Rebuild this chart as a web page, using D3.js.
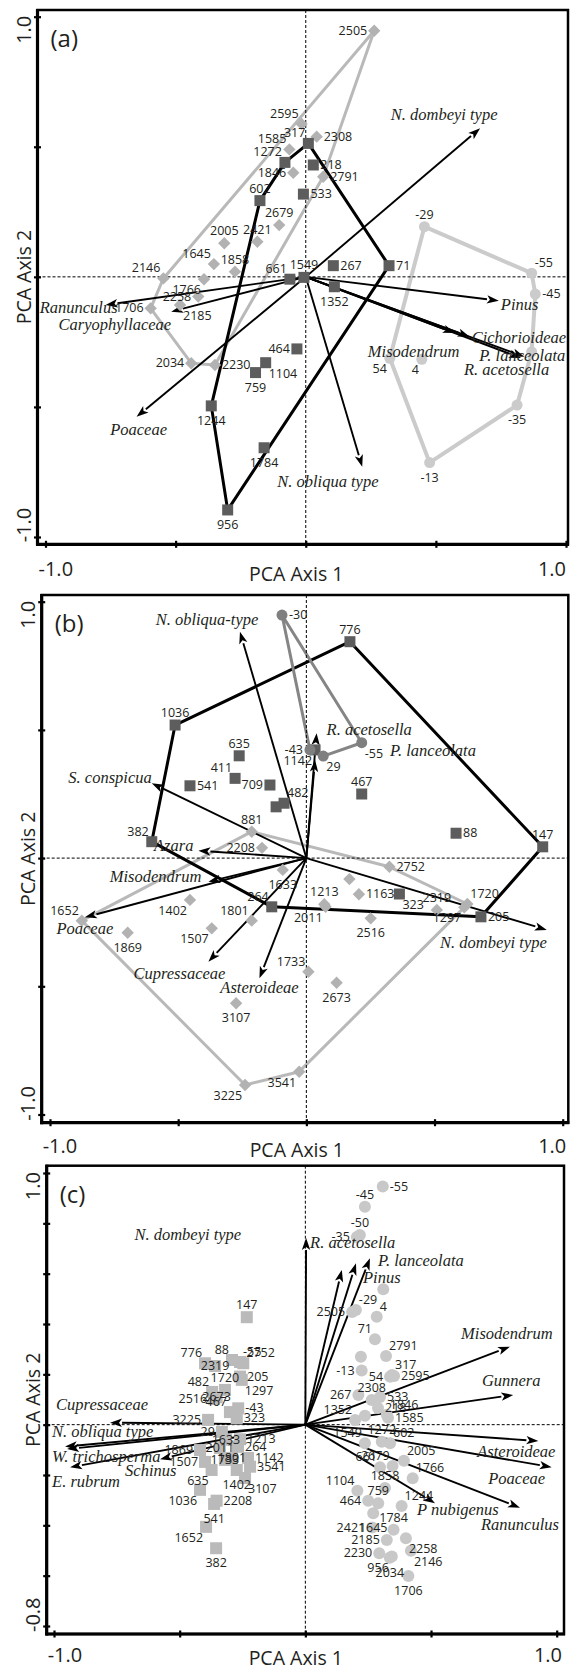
<!DOCTYPE html>
<html lang="en">
<head>
<meta charset="UTF-8">
<title>PCA biplots (a) (b) (c)</title>
<style>
    body { margin: 0; background: #fff; }
    svg { display: block; font-family: "Open Sans", "Liberation Sans", sans-serif; }
    .num { font-size: 12.5px; fill: #231f20; }
    .sp { font-family: "Liberation Serif", "Times New Roman", serif; font-style: italic; font-size: 16.5px; fill: #231f20; }
    .tk { font-size: 20px; fill: #231f20; }
    .ttl { font-size: 19.5px; fill: #231f20; }
    .plab { font-size: 24px; fill: #231f20; }
</style>
</head>
<body>
<svg width="571" height="1670"></svg>

<script src="https://d3js.org/d3.v7.min.js"></script>
<script>
    // ---- data: [sample label, PCA axis 1, PCA axis 2] ----

    // panel (a)
    const aSquares = [
        ["317", 0.010, 0.513], ["218", 0.029, 0.430], ["533", -0.009, 0.318], ["1272", -0.080, 0.440],
        ["602", -0.176, 0.293], ["71", 0.320, 0.043], ["267", 0.106, 0.043], ["1549", -0.007, -0.002],
        ["661", -0.061, -0.009], ["1352", 0.110, -0.038], ["464", -0.034, -0.277], ["1104", -0.154, -0.330],
        ["759", -0.193, -0.368], ["1244", -0.363, -0.496], ["1784", -0.160, -0.657], ["956", -0.300, -0.896]
    ];
    const aDiamonds = [
        ["2505", 0.263, 0.946], ["2595", -0.016, 0.588], ["2308", 0.042, 0.539], ["1585", -0.063, 0.490],
        ["1846", -0.048, 0.400], ["2791", 0.067, 0.385], ["2679", -0.102, 0.199], ["2421", -0.186, 0.135],
        ["2005", -0.313, 0.129], ["1645", -0.353, 0.049], ["1858", -0.272, 0.020], ["2146", -0.547, -0.006],
        ["1766", -0.391, -0.009], ["2258", -0.413, -0.076], ["1706", -0.596, -0.121], ["2185", -0.483, -0.108],
        ["2034", -0.440, -0.332], ["2230", -0.349, -0.339]
    ];
    const aCircles = [
        ["-29", 0.456, 0.193], ["-55", 0.868, 0.014], ["-45", 0.882, -0.066], ["", 0.868, -0.288],
        ["-35", 0.812, -0.493], ["-13", 0.476, -0.714], ["54", 0.323, -0.313], ["4", 0.446, -0.317]
    ];
    const aSpecies = [
        ["N. dombeyi type", 0.670, 0.571], ["Pinus", 0.742, -0.092], ["Cichorioideae", 0.630, -0.230],
        ["P. lanceolata", 0.840, -0.307], ["R. acetosella", 0.827, -0.312], ["Misodendrum", 0.573, -0.216],
        ["N. obliqua type", 0.217, -0.730], ["Poaceae", -0.650, -0.538], ["Caryophyllaceae", -0.517, -0.134],
        ["Ranunculus", -0.769, -0.108]
    ];

    // panel (b)
    const bSquares = [
        ["776", 0.170, 0.844], ["1036", -0.512, 0.519], ["635", -0.262, 0.399], ["411", -0.278, 0.311],
        ["709", -0.142, 0.285], ["541", -0.454, 0.282], ["482", -0.087, 0.214], ["", -0.118, 0.200],
        ["1142", 0.034, 0.422], ["467", 0.216, 0.250], ["88", 0.584, 0.097], ["147", 0.922, 0.044],
        ["205", 0.681, -0.229], ["382", -0.603, 0.064], ["264", -0.135, -0.190], ["323", 0.363, -0.140]
    ];
    const bDiamonds = [
        ["881", -0.213, 0.103], ["2208", -0.173, 0.040], ["1652", -0.876, -0.244], ["1869", -0.697, -0.291],
        ["1402", -0.454, -0.163], ["1507", -0.369, -0.274], ["1801", -0.213, -0.244], ["1633", -0.092, -0.046],
        ["3107", -0.274, -0.566], ["3225", -0.239, -0.885], ["3541", -0.028, -0.833], ["1733", 0.008, -0.443],
        ["2673", 0.118, -0.486], ["2752", 0.324, -0.034], ["", 0.168, -0.082], ["1213", 0.070, -0.180],
        ["1163", 0.205, -0.141], ["2011", 0.075, -0.190], ["2516", 0.251, -0.235], ["2319", 0.509, -0.202],
        ["1720", 0.628, -0.179], ["1297", 0.616, -0.192]
    ];
    const bCircles = [
        ["-30", -0.095, 0.948], ["-55", 0.216, 0.450], ["29", 0.066, 0.398], ["-43", 0.014, 0.422]
    ];
    const bSpecies = [
        ["N. obliqua-type", -0.259, 0.883], ["R. acetosella", 0.040, 0.487], ["P. lanceolata", 0.034, 0.383],
        ["S. conspicua", -0.603, 0.292], ["Azara", -0.421, 0.029], ["Misodendrum", -0.382, -0.092],
        ["Poaceae", -0.864, -0.231], ["Cupressaceae", -0.382, -0.404], ["Asteroideae", -0.183, -0.469],
        ["N. dombeyi type", 0.938, -0.280]
    ];

    // panel (c)
    const cCircles = [
        ["-55", 0.308, 0.946], ["-45", 0.237, 0.866], ["-50", 0.217, 0.754], ["-35", 0.205, 0.746],
        ["", 0.310, 0.538], ["2505", 0.186, 0.448], ["-29", 0.201, 0.456], ["4", 0.284, 0.429],
        ["71", 0.277, 0.339], ["2791", 0.321, 0.273], ["", 0.221, 0.270], ["-13", 0.224, 0.215],
        ["54", 0.337, 0.190], ["317", 0.345, 0.197], ["2595", 0.353, 0.193], ["267", 0.211, 0.118],
        ["2308", 0.264, 0.098], ["533", 0.297, 0.110], ["218", 0.289, 0.066], ["1352", 0.198, 0.019],
        ["", 0.237, 0.035], ["1846", 0.324, 0.039], ["1585", 0.329, 0.027], ["1549", 0.237, -0.074],
        ["1272", 0.304, -0.068], ["602", 0.337, -0.074], ["2005", 0.392, -0.143], ["661", 0.297, -0.169],
        ["2679", 0.347, -0.164], ["1766", 0.427, -0.213], ["1104", 0.207, -0.263], ["1858", 0.317, -0.252],
        ["759", 0.290, -0.312], ["464", 0.250, -0.302], ["1244", 0.383, -0.323], ["1645", 0.270, -0.352],
        ["1784", 0.351, -0.418], ["2421", 0.266, -0.409], ["2185", 0.324, -0.458], ["2258", 0.400, -0.451],
        ["2146", 0.420, -0.501], ["2230", 0.294, -0.511], ["956", 0.344, -0.524], ["2034", 0.336, -0.529],
        ["1706", 0.410, -0.601]
    ];
    const cSquares = [
        ["147", -0.233, 0.427], ["88", -0.292, 0.257], ["-55", -0.260, 0.249], ["776", -0.399, 0.244],
        ["2319", -0.359, 0.233], ["2752", -0.247, 0.244], ["205", -0.260, 0.191], ["482", -0.371, 0.130],
        ["1720", -0.320, 0.138], ["1297", -0.253, 0.178], ["2673", -0.353, 0.109], ["2516", -0.363, 0.102],
        ["-43", -0.267, 0.065], ["3225", -0.387, 0.019], ["467", -0.300, 0.050], ["323", -0.273, 0.025],
        ["29", -0.332, -0.029], ["1633", -0.316, -0.060], ["1213", -0.260, -0.058], ["1869", -0.419, -0.101],
        ["2011", -0.340, -0.093], ["264", -0.268, -0.088], ["1507", -0.399, -0.148], ["1733", -0.320, -0.140],
        ["1801", -0.292, -0.132], ["1142", -0.228, -0.132], ["3541", -0.220, -0.167], ["635", -0.373, -0.180],
        ["1402", -0.273, -0.180], ["3107", -0.240, -0.212], ["1036", -0.419, -0.259], ["2208", -0.353, -0.302],
        ["541", -0.363, -0.315], ["1652", -0.395, -0.406], ["382", -0.355, -0.491]
    ];
    const cSpecies = [
        ["R. acetosella", 0.003, 0.742], ["N. dombeyi type", 0.145, 0.615], ["Pinus", 0.2015, 0.641],
        ["P. lanceolata", 0.257, 0.661], ["Misodendrum", 0.814, 0.310], ["Gunnera", 0.827, 0.118],
        ["Asteroideae", 0.927, -0.065], ["Poaceae", 0.980, -0.169], ["Ranunculus", 0.854, -0.330],
        ["P nubigenus", 0.516, -0.312], ["Cupressaceae", -0.777, 0.008], ["N. obliqua type", -0.956, -0.087],
        ["W. trichosperma", -0.948, -0.097], ["E. rubrum", -0.936, -0.169], ["Schinus", -0.578, -0.137]
    ];

    // axis tick values
    const xTicks = [-1, -0.5, 0, 0.5, 1];
    const yTicksAB = [-1, -0.5, 0, 0.5, 1];
    const yTicksC = [-0.8, -0.6, -0.4, -0.2, 0, 0.2, 0.4, 0.6, 0.8, 1.0];

    // ---- label placement (layout only) ----
    // code -> [anchor, dx, dy]
    const place = {
        t: ["middle", 0, -8], b: ["middle", 0, 19], l: ["end", -7, 4], r: ["start", 7, 4],
        tl: ["end", -3, -6], tr: ["start", 3, -6], bl: ["end", -3, 15], br: ["start", 3, 15], c: ["middle", 0, 4]
    };
    const aSqPos = { "317":"tl","218":"r","533":"r","1272":"tl","602":"t","71":"r","267":"r","1549":"t","661":"tl",
        "1352":"b","464":"l","1104":"br","759":"b","1244":"b","1784":"b","956":"b" };
    const aDiPos = { "2505":"l","2595":"tl","2308":"r","1585":"tl","1846":"l","2791":"r","2679":"t","2421":"t",
        "2005":"t","1645":"tl","1858":"t","2146":"tl","1766":"bl","2258":"l","1706":"l","2185":"br","2034":"l","2230":"r" };
    const aCiPos = { "-29":"t","-55":"tr","-45":"r","-35":"b","-13":"b","54":"bl","4":"bl" };
    const bSqPos = { "776":"t","1036":"t","635":"t","411":"tl","709":"l","541":"r","482":"tr","1142":"bl","467":"t",
        "88":"r","147":"t","205":"r","382":"tl","264":"tl","323":"br" };
    const bDiPos = { "881":"t","2208":"l","1652":"tl","1869":"b","1402":"bl","1507":"bl","1801":"tl","1633":"b",
        "3107":"b","3225":"bl","3541":"bl","1733":"tl","2673":"b","2752":"r","1213":"t","1163":"r","2011":"bl",
        "2516":"b","2319":"t","1720":"tr","1297":"bl" };
    const bCiPos = { "-30":"r","-55":"br","29":"br","-43":"l" };
    const cCiPos = { "-55":"r","-45":"t","-50":"t","-35":"l","2505":"l","-29":"tr","4":"tr","71":"tl","2791":"tr",
        "-13":"l","54":"l","317":"tr","2595":"r","267":"l","2308":"t","533":"r","218":"r","1352":"tl","1846":"tr",
        "1585":"r","1549":"tl","1272":"t","602":"tr","2005":"tr","661":"tl","2679":"tl","1766":"tr","1104":"tl",
        "1858":"t","759":"t","464":"l","1244":"tr","1645":"b","1784":"t","2421":"l","2185":"l","2258":"br",
        "2146":"br","2230":"l","956":"bl","2034":"b","1706":"b" };
    const cSqPos = { "147":"t","88":"tl","-55":"tr","776":"tl","2319":"c","2752":"tr","205":"r","482":"tl","1720":"t",
        "1297":"br","2673":"c","2516":"l","-43":"r","3225":"l","467":"tl","323":"r","29":"l","1633":"c","1213":"r",
        "1869":"l","2011":"c","264":"r","1507":"l","1733":"c","1801":"c","1142":"r","3541":"r","635":"bl","1402":"b",
        "3107":"br","1036":"bl","2208":"r","541":"b","1652":"bl","382":"b" };

    // species label: [anchor, dx, dy] from the arrow head
    const aSpPos = { "N. dombeyi type":["middle",-36,-8], "Pinus":["start",2,9], "Cichorioideae":["start",2,6],
        "P. lanceolata":["start",-45,4], "R. acetosella":["start",-57,17], "Misodendrum":["start",-87,24],
        "N. obliqua type":["start",-85,20], "Poaceae":["middle",2,18], "Caryophyllaceae":["end",0,18],
        "Ranunculus":["middle",-27,8] };
    const bSpPos = { "N. obliqua-type":["middle",-33,-7], "R. acetosella":["start",10,2], "P. lanceolata":["start",75,-4],
        "S. conspicua":["end",0,0], "Azara":["end",-5,0], "Misodendrum":["end",-7,0], "Poaceae":["middle",0,17],
        "Cupressaceae":["middle",-29,17], "Asteroideae":["middle",0,15], "N. dombeyi type":["end",0,18] };
    const cSpPos = { "R. acetosella":["start",4,10], "N. dombeyi type":["middle",-154,-30], "Pinus":["start",7,20],
        "P. lanceolata":["start",8,8], "Misodendrum":["middle",-3,-8], "Gunnera":["middle",-2,-9],
        "Asteroideae":["middle",-22,16], "Poaceae":["middle",-35,17], "Ranunculus":["middle",0,22],
        "P nubigenus":["start",-18,12], "Cupressaceae":["middle",-8,-13], "N. obliqua type":["start",-13,-10],
        "W. trichosperma":["start",-15,13], "E. rubrum":["start",-18,20], "Schinus":["start",-35,17] };

    // ---- panels: frame and scale ranges ----
    const panels = [
        { tag: "(a)", frame: [37.5, 10, 568, 544.3], xr: [45.5, 566], yd: [-1, 1], yr: [537, 16.7],
          yTicks: yTicksAB, yLabels: ["-1.0", "1.0"], tickDy: 32, titleDy: 37,
          groups: [
              { data: aDiamonds, pos: aDiPos, shape: "diamond", fill: "#b2b2b2", hull: "#b9b9b9", hw: 3 },
              { data: aCircles, pos: aCiPos, shape: "circle", fill: "#cbcbcb", hull: "#cbcbcb", hw: 4 },
              { data: aSquares, pos: aSqPos, shape: "square", fill: "#5d5d5d", hull: "#000", hw: 3 }
          ],
          species: aSpecies, spPos: aSpPos },
        { tag: "(b)", frame: [41.7, 595, 568.3, 1122.7], xr: [50, 562.7], yd: [-1, 1], yr: [1114.5, 601.7],
          yTicks: yTicksAB, yLabels: ["-1.0", "1.0"], tickDy: 30, titleDy: 34,
          groups: [
              { data: bDiamonds, pos: bDiPos, shape: "diamond", fill: "#b2b2b2", hull: "#b9b9b9", hw: 3 },
              { data: bSquares, pos: bSqPos, shape: "square", fill: "#5d5d5d", hull: "#000", hw: 3 },
              { data: bCircles, pos: bCiPos, shape: "circle", fill: "#7f7f7f", hull: "#858585", hw: 3 }
          ],
          species: bSpecies, spPos: bSpPos },
        { tag: "(c)", frame: [46.7, 1165.7, 564, 1634], xr: [54, 556.7], yd: [-0.8, 1], yr: [1626, 1173],
          yTicks: yTicksC, yLabels: ["-0.8", "1.0"], tickDy: 28, titleDy: 31,
          groups: [
              { data: cCircles, pos: cCiPos, shape: "circle", fill: "#c8c8c8", hull: null, r: 6 },
              { data: cSquares, pos: cSqPos, shape: "square", fill: "#bababa", hull: null, size: 12 }
          ],
          species: cSpecies, spPos: cSpPos }
    ];

    const svg = d3.select("svg");

    function drawPanel(p) {
        const x = d3.scaleLinear().domain([-1, 1]).range(p.xr);
        const y = d3.scaleLinear().domain(p.yd).range(p.yr);
        const [fl, ft, fr, fb] = p.frame;
        const g = svg.append("g");

        // polygons round each group
        p.groups.forEach(gr => {
            if (!gr.hull) return;
            const hull = d3.polygonHull(gr.data.map(d => [x(d[1]), y(d[2])]));
            g.append("path")
                .attr("d", "M" + hull.join("L") + "Z")
                .attr("fill", "none")
                .attr("stroke", gr.hull)
                .attr("stroke-width", gr.hw)
                .attr("stroke-linejoin", "round");
        });

        // dashed zero lines
        g.append("line").attr("x1", x(0)).attr("x2", x(0)).attr("y1", ft).attr("y2", fb)
            .attr("stroke", "#000").attr("stroke-width", 1).attr("stroke-dasharray", "3,2");
        g.append("line").attr("x1", fl).attr("x2", fr).attr("y1", y(0)).attr("y2", y(0))
            .attr("stroke", "#000").attr("stroke-width", 1).attr("stroke-dasharray", "3,2");

        // species arrows
        p.species.forEach(s => {
            const x0 = x(0), y0 = y(0), x1 = x(s[1]), y1 = y(s[2]);
            const a = Math.atan2(y1 - y0, x1 - x0);
            const len = 12, hw = 4.2;
            const bx = x1 - len * Math.cos(a), by = y1 - len * Math.sin(a);
            g.append("line").attr("x1", x0).attr("y1", y0).attr("x2", bx).attr("y2", by)
                .attr("stroke", "#000").attr("stroke-width", 1.9);
            g.append("path")
                .attr("d", `M${x1},${y1}L${bx - hw * Math.sin(a)},${by + hw * Math.cos(a)}` +
                    `L${bx + 3 * Math.cos(a)},${by + 3 * Math.sin(a)}L${bx + hw * Math.sin(a)},${by - hw * Math.cos(a)}Z`)
                .attr("fill", "#000");
        });

        // sample markers
        p.groups.forEach(gr => {
            gr.data.forEach(d => {
                const cx = x(d[1]), cy = y(d[2]);
                if (gr.shape === "circle") {
                    g.append("circle").attr("cx", cx).attr("cy", cy).attr("r", gr.r || 5.5).attr("fill", gr.fill);
                } else if (gr.shape === "square") {
                    const s = gr.size || 11;
                    g.append("rect").attr("x", cx - s / 2).attr("y", cy - s / 2).attr("width", s).attr("height", s)
                        .attr("fill", gr.fill);
                } else {
                    const h = 6.2;
                    g.append("path").attr("d", `M${cx},${cy - h}L${cx + h},${cy}L${cx},${cy + h}L${cx - h},${cy}Z`)
                        .attr("fill", gr.fill);
                }
            });
        });

        // sample labels
        p.groups.forEach(gr => {
            gr.data.forEach(d => {
                if (!d[0]) return;
                const pl = place[gr.pos[d[0]] || "r"];
                g.append("text").attr("class", "num")
                    .attr("x", x(d[1]) + pl[1]).attr("y", y(d[2]) + pl[2])
                    .attr("text-anchor", pl[0]).text(d[0]);
            });
        });

        // species labels
        p.species.forEach(s => {
            const pl = p.spPos[s[0]];
            g.append("text").attr("class", "sp")
                .attr("x", x(s[1]) + pl[1]).attr("y", y(s[2]) + pl[2])
                .attr("text-anchor", pl[0]).text(s[0]);
        });

        // frame and axes
        g.append("rect").attr("x", fl).attr("y", ft).attr("width", fr - fl).attr("height", fb - ft)
            .attr("fill", "none").attr("stroke", "#000").attr("stroke-width", 2.5);

        const xAxis = g.append("g").attr("transform", `translate(0,${fb})`)
            .call(d3.axisBottom(x).tickValues(xTicks).tickSize(3).tickFormat(""));
        const yAxis = g.append("g").attr("transform", `translate(${fl},0)`)
            .call(d3.axisLeft(y).tickValues(p.yTicks).tickSize(3).tickFormat(""));
        xAxis.select(".domain").remove();
        yAxis.select(".domain").remove();
        xAxis.selectAll(".tick line").attr("y1", -3.5).attr("y2", 3.5).attr("stroke-width", 2.2);
        yAxis.selectAll(".tick line").attr("x1", -3.5).attr("x2", 3.5).attr("stroke-width", 2.2);

        g.append("line").attr("x1", fl).attr("x2", fl).attr("y1", ft - 1).attr("y2", fb + 1.5)
            .attr("stroke", "#000").attr("stroke-width", 3.2);
        g.append("line").attr("x1", fl - 1.5).attr("x2", fr + 1).attr("y1", fb).attr("y2", fb)
            .attr("stroke", "#000").attr("stroke-width", 3.2);

        // tick labels
        g.append("text").attr("class", "tk").attr("x", fl + 1).attr("y", fb + p.tickDy).text("-1.0");
        g.append("text").attr("class", "tk").attr("x", fr - 2).attr("y", fb + p.tickDy)
            .attr("text-anchor", "end").text("1.0");
        g.append("text").attr("class", "tk").attr("text-anchor", "start")
            .attr("transform", `translate(${fl - 7},${fb - 2}) rotate(-90)`).text(p.yLabels[0]);
        g.append("text").attr("class", "tk").attr("text-anchor", "end")
            .attr("transform", `translate(${fl - 7},${y(p.yd[1]) - 1}) rotate(-90)`).text(p.yLabels[1]);

        // axis titles
        g.append("text").attr("class", "ttl").attr("x", x(0) - 9.5).attr("y", fb + p.titleDy)
            .attr("text-anchor", "middle").text("PCA Axis 1");
        g.append("text").attr("class", "ttl").attr("text-anchor", "middle")
            .attr("transform", `translate(${fl - 7},${(ft + fb) / 2}) rotate(-90)`).text("PCA Axis 2");

        // panel tag
        g.append("text").attr("class", "plab").attr("x", fl + 13).attr("y", ft + 37).text(p.tag);
    }

    panels.forEach(drawPanel);
</script>
</body>
</html>
